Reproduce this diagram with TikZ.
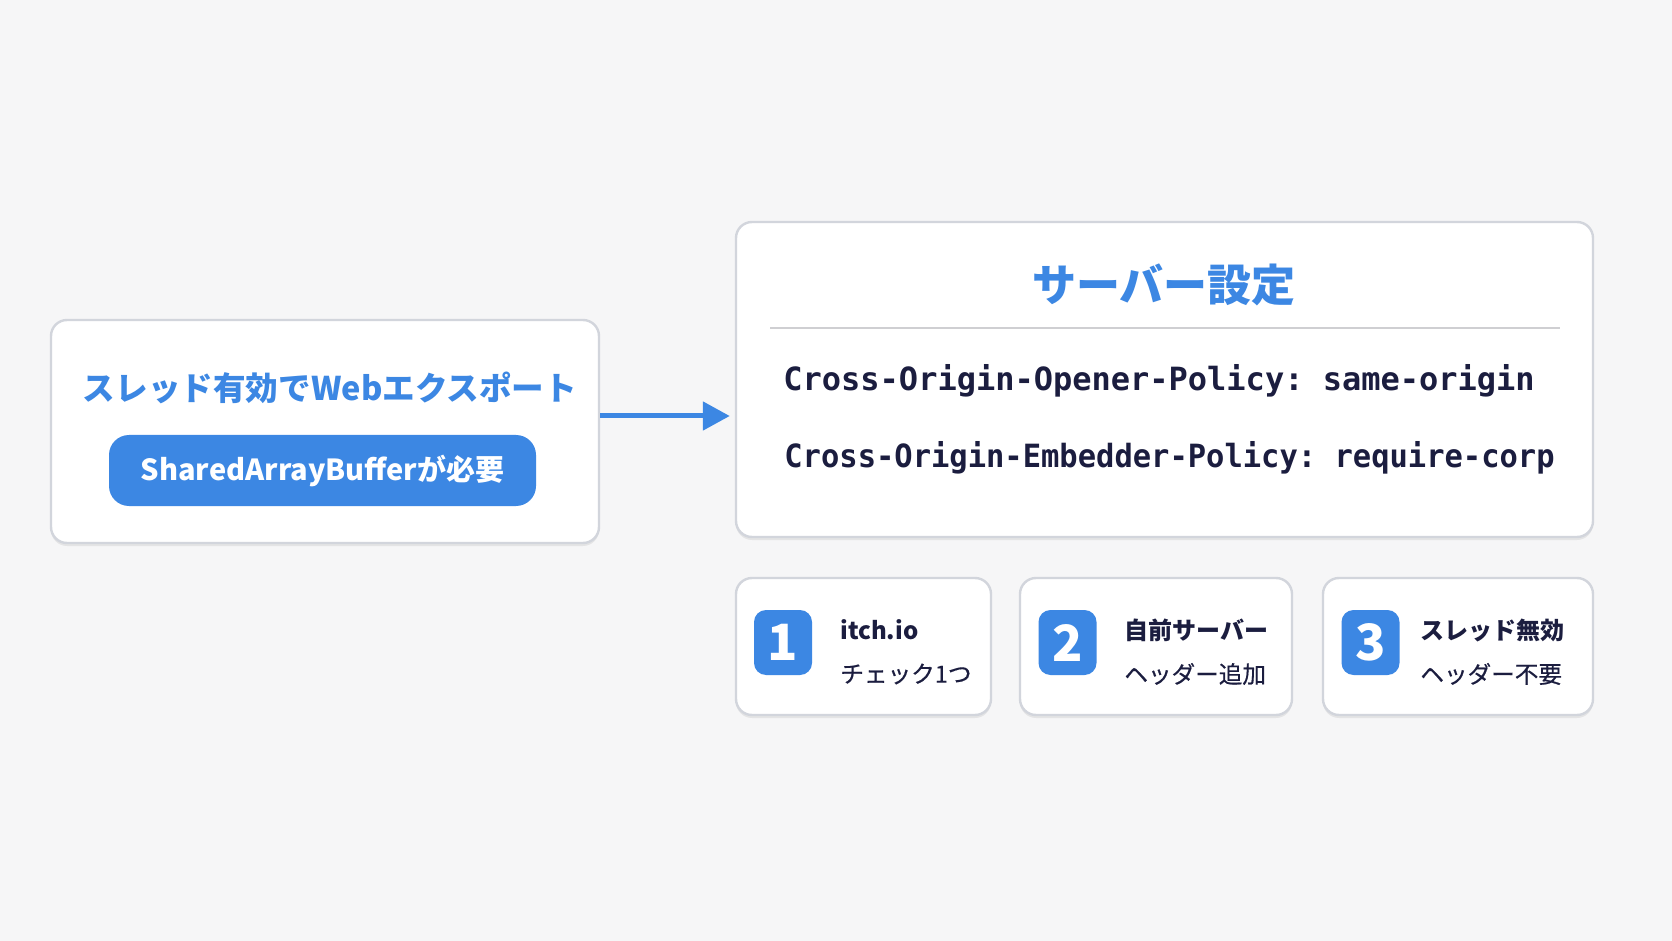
\documentclass[tikz,border=0pt]{standalone}
\usepackage{fontspec}
\setmainfont{Noto Sans CJK JP}
\newfontfamily\codefont{DejaVu Sans Mono Bold}
\newfontfamily\medjp[FakeBold=0.5]{Noto Sans CJK JP}
\usetikzlibrary{arrows.meta,shadows}
\definecolor{bg}{HTML}{F6F6F7}
\definecolor{accent}{HTML}{3C87E3}
\definecolor{navy}{HTML}{1B1D3F}
\definecolor{edge}{HTML}{D2D5DC}
\definecolor{rule}{HTML}{CFCFD2}
\tikzset{
  card/.style={draw=edge,line width=1.2pt,fill=white,rounded corners=8pt,
    drop shadow={shadow xshift=0pt,shadow yshift=-1.5pt,opacity=0.12,fill=black!60}},
  pill/.style={fill=accent,rounded corners=10pt,text=white,font=\bfseries\fontsize{14.5}{17}\selectfont},
  numsq/.style={fill=accent,rounded corners=6pt,text=white,minimum width=29pt,minimum height=32.5pt,inner sep=0pt,font=\bfseries\fontsize{25}{28}\selectfont},
  bluetitle/.style={text=accent,font=\bfseries\fontsize{16.3}{19}\selectfont},
  bigtitle/.style={text=accent,font=\bfseries\fontsize{22}{26}\selectfont},
  codeline/.style={anchor=west,text=navy,inner sep=0pt,font=\codefont\fontsize{16}{19}\selectfont},
  lblA/.style={anchor=west,text=navy,inner sep=0pt,font=\bfseries\fontsize{12}{14}\selectfont},
  lblB/.style={anchor=west,text=navy,inner sep=0pt,font=\medjp\fontsize{11.8}{14}\selectfont},
  flow/.style={draw=accent,line width=2.5pt,-{Triangle[length=13.5pt,width=14pt]}}
}
\frenchspacing
\begin{document}
\begin{tikzpicture}[x=0.5pt,y=-0.5pt]
\fill[bg] (0,0) rectangle (1672,941);
\useasboundingbox (0,0) rectangle (1672,941);
% left card
\node[card,minimum width=274pt,minimum height=111.5pt] (L) at (325,431.5) {};
\node[bluetitle] (Lt) at (330,388) {スレッド有効でWebエクスポート};
\node[pill,minimum width=213.5pt,minimum height=35.5pt] (P) at (322.5,470.5) {SharedArrayBufferが必要};
% right card
\node[card,minimum width=428.5pt,minimum height=157.5pt] (R) at (1164.5,379.5) {};
\node[bigtitle] (Rt) at (1164,285) {サーバー設定};
\coordinate (d1) at (770,328);
\coordinate (d2) at (1560,328);
\draw[rule,line width=1pt] (d1) -- (d2);
\node[codeline] (c1) at (783,381) {Cross-Origin-Opener-Policy: same-origin};
\node[codeline] (c2) at (784,458) {\scalebox{0.952}[1]{Cross-Origin-Embedder-Policy: require-corp}};
% arrow
\draw[flow,shorten >=2.5pt] ([yshift=7.75pt]L.east) -- ([yshift=-18.25pt]R.west);
% bottom cards
\node[card,minimum width=127.5pt,minimum height=68.5pt] (B1) at (863.5,646.5) {};
\node[card,minimum width=136pt,minimum height=68.5pt] (B2) at (1156,646.5) {};
\node[card,minimum width=135pt,minimum height=68.5pt] (B3) at (1458,646.5) {};
\node[numsq] (s1) at (783,642.5) {1};
\node[numsq] (s2) at (1067.5,642.5) {2};
\node[numsq] (s3) at (1370.5,642.5) {3};
\node[lblA] (a1) at (840,630) {itch.io};
\node[lblB] (b1) at (840,674) {チェック1つ};
\node[lblA] (a2) at (1124,630) {自前サーバー};
\node[lblB] (b2) at (1124,674) {ヘッダー追加};
\node[lblA] (a3) at (1420,630) {スレッド無効};
\node[lblB] (b3) at (1420,674) {ヘッダー不要};
\end{tikzpicture}
\end{document}
